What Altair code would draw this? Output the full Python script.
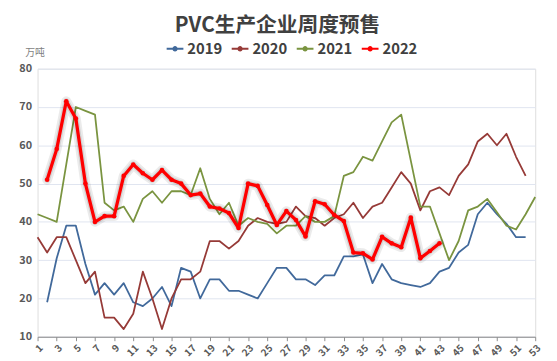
import altair as alt
import pandas as pd

weeks = list(range(1, 54))
years = ["2019", "2020", "2021", "2022"]
colors = ["#41699b", "#963a37", "#7a9440", "#ff0000"]

v2019 = [None, 19, 30.5, 39, 39, 29, 21, 24, 21, 24, 19, 18, 20, 23, 18, 28, 27, 20,
         25, 25, 22, 22, 21, 20, 24, 28, 28, 25, 25, 23.5, 26, 26, 31, 31, 31.5, 24,
         29, 25, 24, 23.5, 23, 24, 27, 28, 32, 34, 42, 45, 42, 39.5, 36, 36, None]
v2020 = [36, 32, 36, 36, 30, 24, 27, 15, 15, 12, 16, 27, 20, 12, 20, 25, 25, 27,
         35, 35, 33, 35, 39, 41, 40, 39.5, 40, 44, 41.5, 41, 39, 41, 42, 45, 41, 44,
         45, 49, 53, 50, 43, 48, 49, 47, 52, 55, 61, 63, 60, 63, 57, 52, None]
v2021 = [42, 41, 40, 55, 70, 69, 68, 45, 43, 44, 40, 46, 48, 45, 48, 48, 47, 54,
         46, 42, 45, 39, 41, 40, 39.5, 37, 39, 39, 41.5, 40, 40, 41.5, 52, 53, 57, 56,
         61, 66, 68, 56, 44, 44, 37, 30, 35, 43, 44, 46, 42.5, 39, 38, 42, 46.5]
v2022 = [None, 51, 59, 71.5, 67, 50, 40, 41.5, 41.5, 52, 55, 52.7, 51, 53.5, 51, 50,
         47, 47.4, 44, 43.5, 42.3, 38.4, 50, 49.4, 44.4, 39.2, 42.8, 40.5, 36.2, 45.4,
         44.6, 41.8, 40.2, 32, 31.8, 30.2, 36.1, 34.4, 33.4, 41.1, 30.5, 32.4, 34.4,
         None, None, None, None, None, None, None, None, None, None]

x_ticks = list(range(1, 54, 2))
y_ticks = list(range(10, 81, 10))

rows = []
for yr, vals in zip(years, [v2019, v2020, v2021, v2022]):
    for w, v in zip(weeks, vals):
        if v is not None:
            rows.append({"week": w, "value": v, "year": yr})
df = pd.DataFrame(rows)

FONT = "Noto Sans CJK SC"

x = alt.X("week:Q",
          scale=alt.Scale(domain=[1, 53], nice=False, zero=False),
          axis=alt.Axis(values=x_ticks, labelAngle=-45, grid=False, title=None,
                        domainColor="#8c8c8c", tickColor="#8c8c8c", tickSize=4,
                        labelColor="#595959", labelFontSize=10, labelFont=FONT,
                        labelFontWeight="bold", labelPadding=2))
y = alt.Y("value:Q",
          scale=alt.Scale(domain=[10, 80], nice=False, zero=False),
          axis=alt.Axis(values=y_ticks, domain=False, ticks=False,
                        gridColor="#dfe5f0", gridWidth=1,
                        labelColor="#595959", labelFontSize=11, labelFont=FONT,
                        labelFontWeight="bold", labelPadding=6,
                        title="万吨", titleAngle=0, titleX=-3, titleY=-16,
                        titleAlign="center", titleBaseline="middle",
                        titleColor="#7f7f7f", titleFontWeight="normal",
                        titleFontSize=10, titleFont=FONT))

legend_symbol = ("M-1,0 L1,0 M-0.2,0 A0.2,0.2 0 1,1 0.2,0 "
                 "A0.2,0.2 0 1,1 -0.2,0 Z")

base = alt.Chart(df)

others = base.transform_filter(alt.datum.year != "2022").mark_line(
    strokeWidth=1.8, strokeJoin="round"
).encode(
    x=x, y=y,
    color=alt.Color("year:N",
                    scale=alt.Scale(domain=years, range=colors),
                    legend=alt.Legend(orient="none", legendX=130, legendY=-30,
                                      direction="horizontal", title=None,
                                      symbolType=legend_symbol, symbolSize=289,
                                      symbolStrokeWidth=2, labelFontSize=15,
                                      labelFont=FONT, labelFontWeight="bold",
                                      labelColor="#404040", columnPadding=5,
                                      labelOffset=3)),
    detail="year:N",
)

d22 = base.transform_filter(alt.datum.year == "2022")
shadow1 = d22.mark_line(color="#000000", opacity=0.08, strokeWidth=10,
                        strokeJoin="round", strokeCap="round").encode(x=x, y=y)
shadow2 = d22.mark_line(color="#000000", opacity=0.10, strokeWidth=6,
                        strokeJoin="round", strokeCap="round").encode(x=x, y=y)
line22 = d22.mark_line(color="#ff0000", strokeWidth=3.3,
                       strokeJoin="round").encode(x=x, y=y)
pts22 = d22.mark_circle(color="#ff0000", size=22, opacity=1).encode(x=x, y=y)

chart = alt.layer(others, shadow1, shadow2, line22, pts22).properties(
    width=505, height=272,
    title=alt.TitleParams("PVC生产企业周度预售", fontSize=21, font=FONT,
                          fontWeight="bold", color="#404040", anchor="middle",
                          dx=-9, offset=3),
    autosize=alt.AutoSizeParams(type="none"),
    padding={"left": 30, "top": 59, "right": 14, "bottom": 22},
).configure_view(strokeWidth=0).configure(background="white")

chart.save("out.html", embed_options={"renderer": "svg", "actions": False})
